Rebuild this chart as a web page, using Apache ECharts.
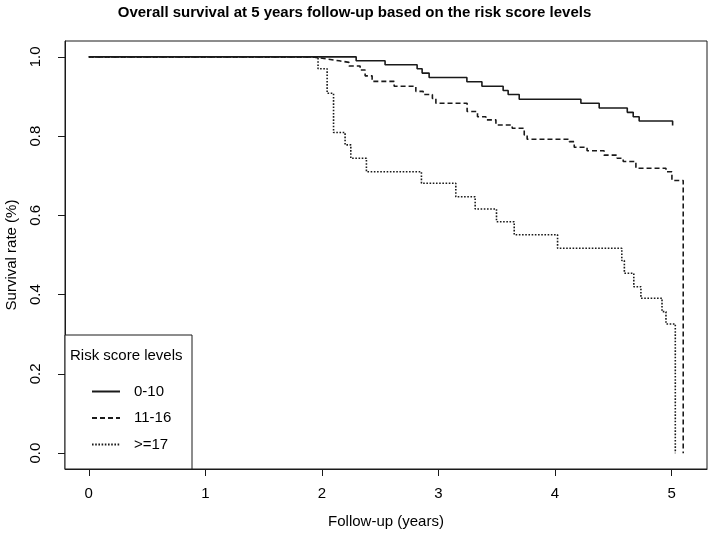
<!DOCTYPE html>
<html>
<head>
<meta charset="utf-8">
<script src="https://cdn.jsdelivr.net/npm/echarts@6/dist/echarts.min.js"></script>
<style>
html,body{margin:0;padding:0;background:#fff;}
#chart{width:709px;height:537px;}
</style>
</head>
<body>
<div id="chart"></div>
<script>
// ---- data ----
var seriesNames = ['0-10', '11-16', '>=17'];

var timeLow = [0, 2.294, 2.542, 2.817, 2.860, 2.920, 3.244, 3.373, 3.555, 3.598, 3.693, 4.222, 4.379, 4.620, 4.671, 4.722, 5.009];
var survLow = [1.0, 0.990, 0.980, 0.970, 0.959, 0.948, 0.937, 0.926, 0.915, 0.905, 0.893, 0.883, 0.871, 0.860, 0.849, 0.838, 0.827];

var timeMid = [0, 1.92, 2.033, 2.148, 2.233, 2.328, 2.371, 2.431, 2.620, 2.806, 2.869, 2.948, 2.978, 3.246, 3.335, 3.407, 3.493, 3.633, 3.736, 3.761, 4.122, 4.165, 4.275, 4.421, 4.533, 4.585, 4.694, 4.952, 5.003, 5.100];
var survMid = [1.0, 0.995, 0.990, 0.986, 0.977, 0.967, 0.952, 0.938, 0.926, 0.913, 0.905, 0.895, 0.883, 0.862, 0.849, 0.841, 0.828, 0.820, 0.803, 0.792, 0.786, 0.772, 0.763, 0.752, 0.744, 0.736, 0.719, 0.710, 0.688, 0.0];

var timeHigh = [0, 1.967, 2.045, 2.100, 2.199, 2.248, 2.382, 2.854, 3.149, 3.315, 3.498, 3.650, 4.022, 4.573, 4.595, 4.676, 4.737, 4.918, 4.952, 5.032];
var survHigh = [1.0, 0.970, 0.908, 0.809, 0.778, 0.744, 0.710, 0.681, 0.647, 0.616, 0.584, 0.551, 0.517, 0.486, 0.454, 0.420, 0.391, 0.357, 0.326, 0.0];

var xTicks = [0, 1, 2, 3, 4, 5];
var yTicks = [0, 0.2, 0.4, 0.6, 0.8, 1.0];

var titleText = 'Overall survival at 5 years follow-up based on the risk score levels';
var xTitle = 'Follow-up (years)';
var yTitle = 'Survival rate (%)';
var legendTitle = 'Risk score levels';

function pairs(t, s) { return t.map(function (v, i) { return [v, s[i]]; }); }

var FONT = '"Liberation Sans", Arial, sans-serif';
var INK = '#1a1a1a';

var chart = echarts.init(document.getElementById('chart'), null, {renderer: 'canvas'});
chart.setOption({
  animation: false,
  backgroundColor: '#fff',
  textStyle: {fontFamily: FONT},
  grid: {left: 65, right: 2, top: 41, bottom: 68, containLabel: false, outerBoundsMode: 'none',
    show: true, borderColor: INK, borderWidth: 1, backgroundColor: 'transparent'},
  xAxis: {
    type: 'value', min: -0.204, max: 5.304,
    name: xTitle, nameLocation: 'middle', nameGap: 45,
    nameTextStyle: {fontFamily: FONT, fontSize: 15, color: '#000'},
    axisLine: {show: true, onZero: false, lineStyle: {color: INK, width: 1}},
    axisTick: {show: true, length: 7, customValues: xTicks, lineStyle: {color: INK}},
    axisLabel: {customValues: xTicks, fontFamily: FONT, fontSize: 15, color: '#000', margin: 17},
    splitLine: {show: false}
  },
  yAxis: {
    type: 'value', min: -0.04, max: 1.04,
    name: yTitle, nameLocation: 'middle', nameGap: 46, nameRotate: 90,
    nameTextStyle: {fontFamily: FONT, fontSize: 15, color: '#000'},
    axisLine: {show: true, onZero: false, lineStyle: {color: INK, width: 1}},
    axisTick: {show: true, length: 7, customValues: yTicks, lineStyle: {color: INK}},
    axisLabel: {customValues: yTicks, rotate: 90, fontFamily: FONT, fontSize: 15, color: '#000', margin: 22,
      formatter: function (v) { return v.toFixed(1); }},
    splitLine: {show: false}
  },
  legend: {
    orient: 'vertical', left: 86, top: 379, z: 10,
    itemWidth: 28, itemHeight: 14, itemGap: 11.5,
    itemStyle: {opacity: 0},
    textStyle: {fontFamily: FONT, fontSize: 15, color: '#000', padding: [0, 0, 0, 9]},
    data: seriesNames
  },
  graphic: [
    {type: 'text', left: 'center', top: 5, z: 10,
      style: {text: titleText, font: 'bold 15px ' + FONT, fill: '#000'}},
    {type: 'rect', z: 3, shape: {x: 65, y: 335, width: 127, height: 134},
      style: {fill: '#fff', stroke: INK, lineWidth: 1}},
    {type: 'text', z: 11, x: 70, y: 348,
      style: {text: legendTitle, font: '15px ' + FONT, fill: '#000'}}
  ],
  series: [
    {name: seriesNames[0], type: 'line', step: 'end', symbol: 'none', data: pairs(timeLow, survLow),
      lineStyle: {color: INK, width: 1.6, type: 'solid'}, itemStyle: {color: INK}},
    {name: seriesNames[1], type: 'line', step: 'end', symbol: 'none', data: pairs(timeMid, survMid),
      lineStyle: {color: INK, width: 1.6, type: [5, 3]}, itemStyle: {color: INK}},
    {name: seriesNames[2], type: 'line', step: 'end', symbol: 'none', data: pairs(timeHigh, survHigh),
      lineStyle: {color: INK, width: 1.6, type: [1.6, 1.6]}, itemStyle: {color: INK}}
  ]
});
</script>
</body>
</html>
